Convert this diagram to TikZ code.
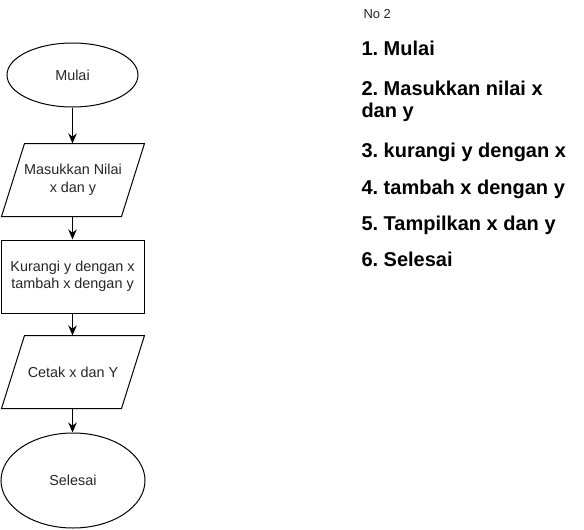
\documentclass[tikz,border=0pt]{standalone}
\usepackage{fontspec}
\setmainfont{Liberation Sans}
\usetikzlibrary{shapes.geometric,arrows.meta,calc}
\frenchspacing
\begin{document}
\begin{tikzpicture}[x=1pt,y=-1pt,
  line width=1pt,
  flowtext/.style={font=\fontsize{14.4}{17.5}\selectfont, align=center, text=black!85},
  term/.style={ellipse, draw, flowtext, inner sep=0pt},
  procbox/.style={rectangle, draw, flowtext, inner sep=0pt},
  iobox/.style={rectangle, flowtext, inner sep=0pt},
  listitem/.style={anchor=base west, inner sep=0pt, font=\fontsize{20}{24}\selectfont\bfseries},
  flowarrow/.style={-{Stealth[length=10pt,width=8.5pt]}, line width=1pt}
]
\useasboundingbox (0,0) rectangle (584,530);

% flowchart
\node[term, minimum width=131pt, minimum height=64pt] (mulai) at (72.5,75) {Mulai};
\node[iobox, minimum width=142pt, minimum height=72pt] (input) at (73,180) {Masukkan Nilai\\x dan y};
\draw ($(input.north west)+(23,0)$) -- (input.north east) -- ($(input.south east)+(-23,0)$) -- (input.south west) -- cycle;
\node[procbox, minimum width=143pt, minimum height=73pt] (proses) at (72.5,276.5) {Kurangi y dengan x\\tambah x dengan y};
\node[iobox, minimum width=142pt, minimum height=72pt] (cetak) at (73,372) {Cetak x dan Y};
\draw ($(cetak.north west)+(23,0)$) -- (cetak.north east) -- ($(cetak.south east)+(-23,0)$) -- (cetak.south west) -- cycle;
\node[term, minimum width=144pt, minimum height=95pt] (selesai) at (73,480.5) {Selesai};

\draw[flowarrow] (mulai.south) -- (mulai.south |- input.north);
\draw[flowarrow] (input.south -| mulai.south) -- (mulai.south |- proses.north);
\draw[flowarrow] (proses.south -| mulai.south) -- (mulai.south |- cetak.north);
\draw[flowarrow] (cetak.south -| mulai.south) -- (mulai.south |- selesai.north);

% list
\node[anchor=base west, inner sep=0pt, font=\fontsize{13}{15}\selectfont, text=black!85] (no) at (363,18) {No 2};
\node[listitem] (l1) at (361,55.5) {1. Mulai};
\node[listitem] (l2a) at (361,95.5) {2. Masukkan nilai x};
\node[listitem] (l2b) at (361,117.5) {dan y};
\node[listitem] (l3) at (361,157.5) {3. kurangi y dengan x};
\node[listitem] (l4) at (361,194.5) {4. tambah x dengan y};
\node[listitem] (l5) at (361,230.5) {5. Tampilkan x dan y};
\node[listitem] (l6) at (361,266.5) {6. Selesai};
\end{tikzpicture}
\end{document}
